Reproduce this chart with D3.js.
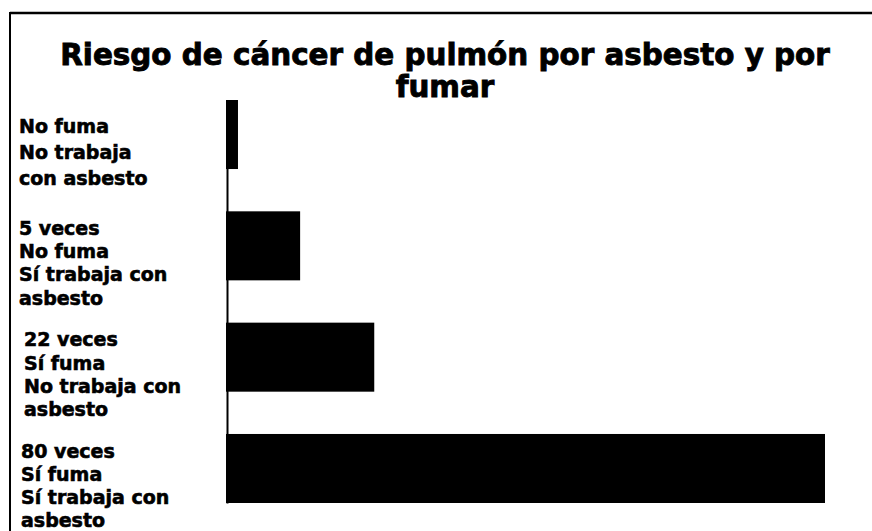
<!DOCTYPE html>
<html>
<head>
<meta charset="utf-8">
<script src="https://cdn.jsdelivr.net/npm/d3@7"></script>
<style>
  html, body { margin: 0; padding: 0; background: #ffffff; }
  svg { display: block; }
  text { font-family: "DejaVu Sans", "Liberation Sans", Arial, sans-serif; font-weight: bold; fill: #000; stroke: #000; }
</style>
</head>
<body>
<svg id="chart" width="872" height="531"></svg>
<script>
// ---- data ----
const categories = ["A", "B", "C", "D"];
const labelLines = [
  ["No fuma", "No trabaja", "con asbesto"],
  ["5 veces", "No fuma", "Sí trabaja con", "asbesto"],
  ["22 veces", "Sí fuma", "No trabaja con", "asbesto"],
  ["80 veces", "Sí fuma", "Sí trabaja con", "asbesto"]
];
// bar lengths as drawn in the picture (relative risk scale, max 80)
const values = [1.6, 9.9, 19.8, 80];
const titleLines = ["Riesgo de cáncer de pulmón por asbesto y por", "fumar"];

// ---- layout ----
const W = 872, H = 531;
const svg = d3.select("#chart");
const labelIndent = [0, 0, 5, 2];

const x = d3.scaleLinear().domain([0, 80]).range([226, 825]);
const y = d3.scaleBand().domain(categories).range([100, 503]).paddingInner(0.38).paddingOuter(0);

// frame (top + left lines)
svg.append("line").attr("x1", 10).attr("x2", W).attr("y1", 13).attr("y2", 13)
  .attr("stroke", "#000").attr("stroke-width", 2.5);
svg.append("line").attr("x1", 10).attr("x2", 10).attr("y1", 12).attr("y2", H)
  .attr("stroke", "#000").attr("stroke-width", 2);

// title (font size fitted to the reference line width)
const titleY = [65, 97];
let titleFs = 28;
titleLines.forEach((t, i) => {
  const tx = svg.append("text")
    .attr("x", 445).attr("y", titleY[i])
    .attr("text-anchor", "middle")
    .style("font-size", "28px")
    .style("stroke-width", "0.9px")
    .text(t);
  if (i === 0) {
    const w = tx.node().getComputedTextLength();
    titleFs = 28 * 770 / w;
  }
  tx.style("font-size", titleFs + "px");
});

// bars
svg.append("g").selectAll("rect").data(values).join("rect")
  .attr("x", x(0))
  .attr("y", (d, i) => y(categories[i]))
  .attr("width", d => x(d) - x(0))
  .attr("height", y.bandwidth())
  .attr("fill", "#000");

// axis (vertical line)
const yAxis = d3.axisLeft(y).tickSize(0).tickFormat("");
const ag = svg.append("g").attr("transform", `translate(${x(0) + 1},0)`).call(yAxis);
ag.select(".domain").attr("stroke", "#000").attr("stroke-width", 2);

// labels
categories.forEach((c, i) => {
  const lines = labelLines[i];
  const lh = lines.length === 3 ? 26 : 23.3;
  const cy = y(c) + y.bandwidth() / 2 + 17;
  const firstCenter = cy - lh * (lines.length - 1) / 2;
  const t = svg.append("text")
    .attr("x", 19 + labelIndent[i])
    .style("font-size", "19px")
    .style("stroke-width", "0.6px");
  lines.forEach((ln, j) => {
    t.append("tspan")
      .attr("x", 19 + labelIndent[i])
      .attr("y", firstCenter + j * lh + 7)
      .text(ln);
  });
});
</script>
</body>
</html>
